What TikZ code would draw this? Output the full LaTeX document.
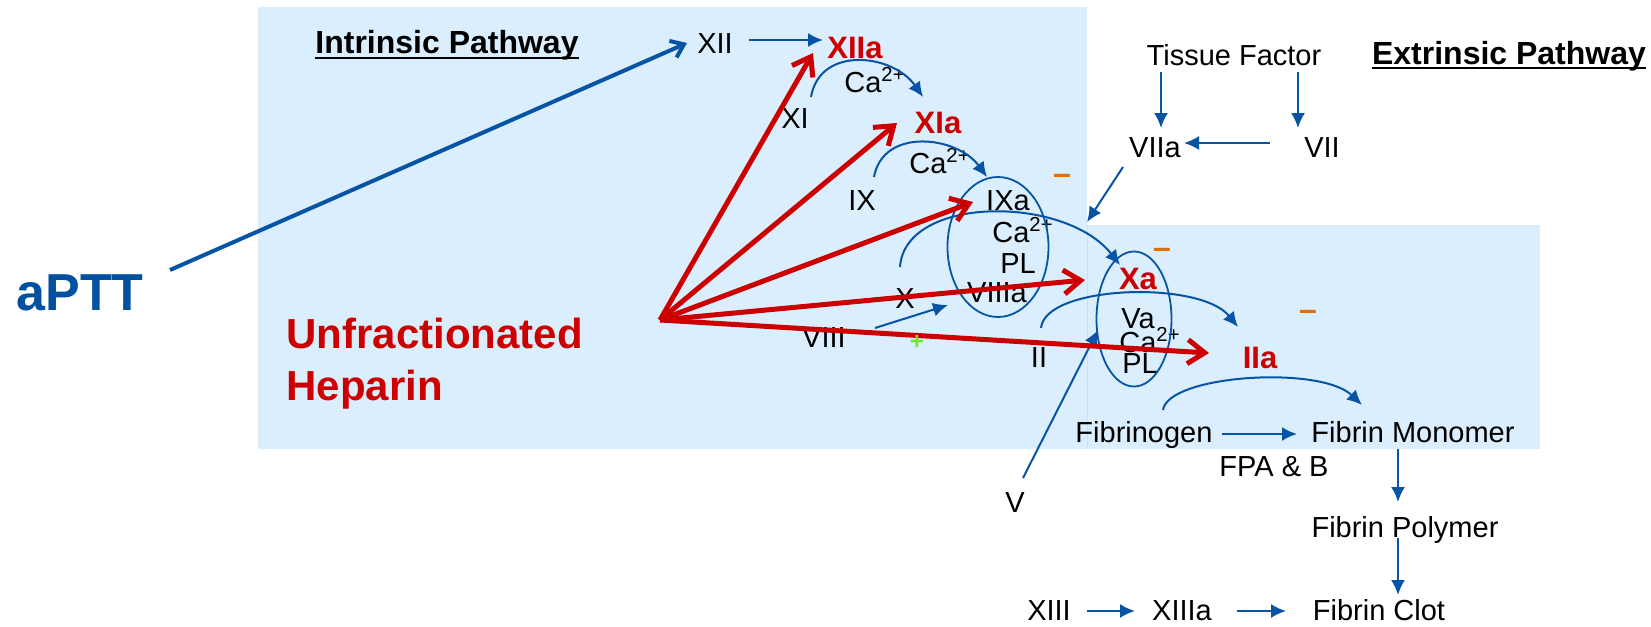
\documentclass[tikz,border=0pt]{standalone}
\usepackage{fontspec}
\setmainfont{Liberation Sans}
\usetikzlibrary{arrows.meta,calc,shapes.geometric}
\definecolor{bgblue}{RGB}{219,238,253}
\definecolor{bgedge}{RGB}{196,226,250}
\definecolor{lnblue}{RGB}{8,84,164}
\definecolor{ablue}{RGB}{0,82,160}
\definecolor{hred}{RGB}{204,0,0}
\definecolor{morange}{RGB}{228,108,10}
\definecolor{pgreen}{RGB}{110,235,40}
\begin{document}
\begin{tikzpicture}[x=0.5pt,y=-0.5pt,
  txt/.style={font=\fontsize{14.5}{16}\selectfont, inner sep=0pt, text height=10.4pt, text depth=0pt},
  rtxt/.style={font=\fontsize{15.5}{17}\selectfont\bfseries, text=hred, inner sep=0pt, text height=11.1pt, text depth=0pt},
  ttl/.style={font=\fontsize{16}{18}\selectfont\bfseries, inner sep=0pt, text height=11.5pt, text depth=0pt},
  heptxt/.style={font=\fontsize{21}{24}\selectfont\bfseries, text=hred, inner sep=0pt, text height=15pt, text depth=0pt, anchor=west},
  apttxt/.style={font=\fontsize{26}{30}\selectfont\bfseries, text=ablue, inner sep=0pt, text height=18.6pt, text depth=0pt},
  minussign/.style={font=\fontsize{16}{18}\selectfont\bfseries, text=morange, inner sep=0pt, anchor=base},
  plussign/.style={font=\fontsize{12}{13}\selectfont\bfseries, text=pgreen, inner sep=0pt, anchor=base},
  cplx/.style={draw=lnblue, line width=0.9pt, ellipse, inner sep=0pt},
  barrow/.style={draw=lnblue, line width=1pt, -{Latex[length=7.5pt,width=7pt]}},
  rarrow/.style={draw=hred, line width=2.5pt, -{Straight Barb[length=8.5pt,width=12pt]}},
  aarrow/.style={draw=lnblue, line width=2pt, -{Straight Barb[length=6pt,width=9pt]}}
]
\useasboundingbox (0,0) rectangle (1651,627);
% backgrounds
\fill[bgblue] (258,7) rectangle (1087,449);
\fill[bgblue] (1087,225) rectangle (1540,449);
\draw[bgedge, line width=0.4pt] (1087,225) -- (1087,449);

% titles
\node[ttl] (ip) at (447,42) {Intrinsic Pathway};
\node[ttl] (ep) at (1509,53) {Extrinsic Pathway};
\draw[line width=1pt] ($(ip.south west)+(0,4)$) -- ($(ip.south east)+(0,4)$);
\draw[line width=1pt] ($(ep.south west)+(0,3)$) -- ($(ep.south east)+(0,3)$);

\node[apttxt] (aptt) at (80,292) {aPTT};
\node[heptxt] (ufh1) at (286,333) {Unfractionated};
\node[heptxt] (ufh2) at (286,385) {Heparin};

% intrinsic factors
\node[txt] (XII) at (715,43) {XII};
\node[rtxt] (XIIa) at (855,47) {XIIa};
\node[txt] (ca1) at (875,82) {Ca\textsuperscript{2+}};
\node[txt] (XI) at (795,118) {XI};
\node[rtxt] (XIa) at (938,122) {XIa};
\node[txt] (ca2) at (940,163) {Ca\textsuperscript{2+}};
\node[txt] (IX) at (862,200) {IX};
\node[txt] (IXa) at (1008,200) {IXa};
\node[txt] (ca3) at (1023,232) {Ca\textsuperscript{2+}};
\node[txt] (plA) at (1018,263) {PL};
\node[txt] (VIIIa) at (997,292) {VIIIa};
\node[txt] (X) at (905,298) {X};
\node[txt] (VIII) at (824,337) {VIII};
\node[txt] (II) at (1039,357) {II};
\node[rtxt] (Xa) at (1138,278) {Xa};
\node[txt] (Va) at (1138,318) {Va};
\node[txt] (ca4) at (1150,342) {Ca\textsuperscript{2+}};
\node[txt] (plB) at (1140,363) {PL};
\node[rtxt] (IIa) at (1260,357) {IIa};

% extrinsic
\node[txt] (TF) at (1234,55) {Tissue Factor};
\node[txt] (VIIa) at (1155,147) {VIIa};
\node[txt] (VII) at (1322,147) {VII};
\node[txt] (V) at (1015,502) {V};

% common
\node[txt] (fib) at (1144,432) {Fibrinogen};
\node[txt] (fm) at (1413,432) {Fibrin Monomer};
\node[txt] (fpa) at (1274,466) {FPA \& B};
\node[txt] (fp) at (1405,527) {Fibrin Polymer};
\node[txt] (fc) at (1379,610) {Fibrin Clot};
\node[txt] (XIII) at (1049,610) {XIII};
\node[txt] (XIIIa) at (1182,610) {XIIIa};

% complexes
\node[cplx, minimum width=50.5pt, minimum height=70pt] (ell1) at (998,247) {};
\node[cplx, minimum width=37.5pt, minimum height=67.5pt] (ell2) at (1134,319) {};

% signs
\node[minussign] (m1) at (1062,184) {–};
\node[minussign] (m2) at (1162,258) {–};
\node[minussign] (m3) at (1308,320) {–};

% blue connectors
\draw[aarrow] ($(aptt)+(90,-22)$) -- ($(XII)+(-28,0)$);
\draw[barrow] ($(XII)+(34,-3)$) -- ($(XIIa)+(-32,-7)$);
\coordinate (a1) at ($(XI)+(16,-21)$);
\coordinate (b1) at ($(XIa)+(-15,-25)$);
\draw[barrow] (a1) .. controls ($(a1)+(9,-52)$) and ($(b1)+(-30,-43)$) .. (b1);
\coordinate (a2) at ($(IX)+(12,-23)$);
\coordinate (b2) at ($(IXa)+(-21,-23)$);
\draw[barrow] (a2) .. controls ($(a2)+(9,-50)$) and ($(b2)+(-30,-41)$) .. (b2);
\coordinate (a3) at ($(X)+(-5,-31)$);
\coordinate (b3) at ($(Xa)+(-18,-13)$);
\draw[barrow] (a3) .. controls ($(a3)+(5,-72)$) and ($(b3)+(-55,-70)$) .. (b3);
\coordinate (a4) at ($(II)+(2,-29)$);
\coordinate (b4) at ($(IIa)+(-22,-30)$);
\draw[barrow] (a4) .. controls ($(a4)+(4,-43)$) and ($(b4)+(-38,-47)$) .. (b4);
\coordinate (a5) at ($(fib)+(19,-22)$);
\coordinate (b5) at ($(fm)+(-51,-27)$);
\draw[barrow] (a5) .. controls ($(a5)+(5,-35)$) and ($(b5)+(-42,-40)$) .. (b5);

\draw[barrow] ($(TF)+(-73,17)$) -- ($(VIIa)+(6,-19)$);
\draw[barrow] ($(TF)+(64,17)$) -- ($(VII)+(-24,-19)$);
\draw[barrow] ($(VII)+(-52,-4)$) -- ($(VIIa)+(29,-4)$);
\draw[barrow] ($(VIIa)+(-32,20)$) -- ($(Xa)+(-51,-56)$);
\draw[barrow] ($(VIII)+(51,-9)$) -- ($(VIIIa)+(-49,13)$);
\draw[barrow] ($(V)+(8,-24)$) -- ($(Va)+(-40,12)$);
\draw[barrow] ($(fib)+(78,2)$) -- ($(fm)+(-116,2)$);
\draw[barrow] ($(fm)+(-15,17)$) -- ($(fp)+(-7,-25)$);
\draw[barrow] ($(fp)+(-7,11)$) -- ($(fc)+(19,-15)$);
\draw[barrow] ($(XIII)+(38,1)$) -- ($(XIIIa)+(-47,1)$);
\draw[barrow] ($(XIIIa)+(55,1)$) -- ($(fc)+(-93,1)$);

% heparin fan
\coordinate (hep) at (660,320);
\draw[rarrow] (hep) -- ($(XIIa)+(-42,6)$);
\draw[rarrow] (hep) -- ($(XIa)+(-41,1)$);
\draw[rarrow] (hep) -- ($(IXa)+(-35,2)$);
\draw[rarrow] (hep) -- ($(Xa)+(-53,2)$);
\draw[rarrow] (hep) -- ($(IIa)+(-51,-4)$);

\node[plussign] (pl) at (917,349) {+};
\end{tikzpicture}
\end{document}
